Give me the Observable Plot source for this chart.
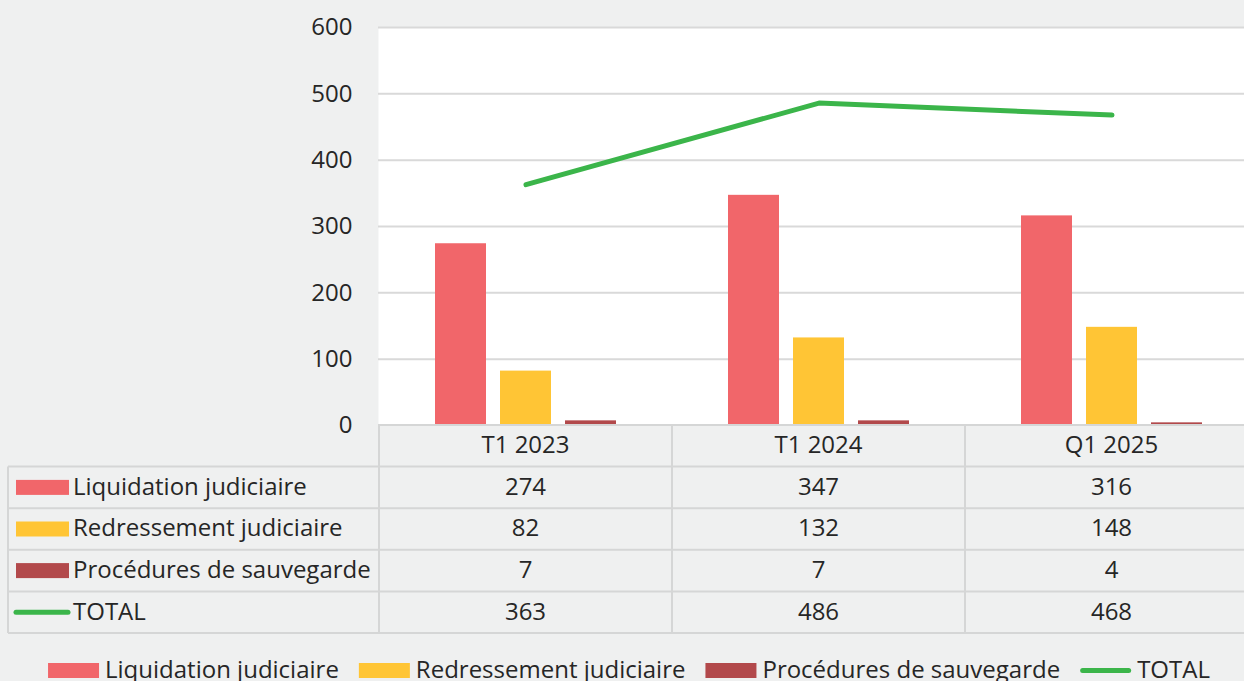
<!DOCTYPE html>
<html><head><meta charset="utf-8">
<script src="https://cdn.jsdelivr.net/npm/d3@7"></script>
<script src="https://cdn.jsdelivr.net/npm/@observablehq/plot@0.6"></script>
<style>
html,body{margin:0;padding:0;background:#eff0f0;overflow:hidden;}
#chart{width:1244px;height:681px;overflow:hidden;position:relative;}
#chart svg{max-width:none !important;}
</style></head><body><div id="chart"></div>
<script>
const categories = ["T1 2023", "T1 2024", "Q1 2025"];
const seriesNames = ["Liquidation judiciaire", "Redressement judiciaire", "Procédures de sauvegarde"];
const liquidation = [274, 347, 316];
const redressement = [82, 132, 148];
const sauvegarde = [7, 7, 4];
const totalName = "TOTAL";
const total = [363, 486, 468];
const yTicks = [0, 100, 200, 300, 400, 500, 600];

(function () {
const seriesValues = [liquidation, redressement, sauvegarde];
const colors = ["#f1666a", "#ffc535", "#b2494b"];
const totalColor = "#3bb54a";
const gridColor = "#d9d9d9";
const tableColor = "#d5d6d6";
const textColor = "#262626";
const font = "'Open Sans', 'Noto Sans', sans-serif";
const fs = 24;
const offsets = [-65, 0, 65];

const W = 1258, H = 681, mL = 378, mT = 27, mB = 256;

const marks = [Plot.frame({fill: "white", stroke: null})];
marks.push(Plot.ruleY(yTicks.filter(t => t > 0), {stroke: gridColor, strokeWidth: 2}));
seriesValues.forEach((vals, i) => {
  marks.push(Plot.barY(categories.map((c, j) => ({cat: c, v: vals[j]})),
    {x: "cat", y: "v", fill: colors[i], insetLeft: 121, insetRight: 121, dx: offsets[i]}));
});
marks.push(Plot.line(categories.map((c, j) => ({cat: c, v: total[j]})),
  {x: "cat", y: "v", stroke: totalColor, strokeWidth: 5, strokeLinecap: "round", strokeLinejoin: "round"}));

const plot = Plot.plot({
  width: W, height: H,
  marginLeft: mL, marginRight: 0, marginTop: mT, marginBottom: mB,
  style: {background: "#eff0f0", fontFamily: font, fontSize: fs + "px", color: textColor, overflow: "visible", maxWidth: "none"},
  x: {type: "band", domain: categories, padding: 0, axis: null},
  y: {domain: [0, 600], ticks: yTicks, tickSize: 0, tickPadding: 26, label: null},
  marks
});
document.getElementById("chart").appendChild(plot);

const xs = plot.scale("x");
const ys = plot.scale("y");
const svg = d3.select(plot);
const g = svg.append("g").attr("font-family", font).attr("fill", textColor)
  .attr("font-size", fs).attr("text-anchor", "start");
const tableTop = ys.apply(0);
const rowH = 41.6;
const nRows = 4;
const tableLeft = 8;
const colStarts = categories.map(c => xs.apply(c));
const bw = xs.bandwidth;
const right = W;
const rowY = k => tableTop + rowH * (k + 1);
const dy = "0.31em";

const lines = g.append("g").attr("stroke", tableColor).attr("stroke-width", 2);
lines.append("line").attr("x1", mL).attr("x2", right).attr("y1", tableTop).attr("y2", tableTop);
for (let k = 0; k <= nRows; k++) {
  lines.append("line").attr("x1", tableLeft).attr("x2", right).attr("y1", rowY(k)).attr("y2", rowY(k));
}
lines.append("line").attr("x1", tableLeft).attr("x2", tableLeft).attr("y1", rowY(0)).attr("y2", rowY(nRows));
colStarts.forEach(x0 => {
  lines.append("line").attr("x1", x0).attr("x2", x0).attr("y1", tableTop).attr("y2", rowY(nRows));
});

categories.forEach((c, j) => {
  g.append("text").attr("x", colStarts[j] + bw / 2).attr("y", tableTop + rowH / 2).attr("dy", dy)
    .attr("text-anchor", "middle").text(c);
});
const rows = seriesNames.map((n, i) => ({name: n, vals: seriesValues[i], color: colors[i], line: false}))
  .concat([{name: totalName, vals: total, color: totalColor, line: true}]);
rows.forEach((r, k) => {
  const cy = rowY(k) + rowH / 2;
  if (r.line) {
    g.append("line").attr("x1", 16).attr("x2", 68).attr("y1", cy).attr("y2", cy)
      .attr("stroke", r.color).attr("stroke-width", 5).attr("stroke-linecap", "round");
  } else {
    g.append("rect").attr("x", 16).attr("y", cy - 7.5).attr("width", 53).attr("height", 15).attr("fill", r.color);
  }
  g.append("text").attr("x", 73).attr("y", cy).attr("dy", dy).text(r.name);
  r.vals.forEach((v, j) => {
    g.append("text").attr("x", colStarts[j] + bw / 2).attr("y", cy).attr("dy", dy)
      .attr("text-anchor", "middle").text(v);
  });
});

// legend, centred on the full chart width
const lg = svg.append("g").attr("font-family", font).attr("fill", textColor)
  .attr("font-size", fs).attr("text-anchor", "start");
const legendY = 670.5;
const sw = 51, swGap = 6, itemGap = 20;
const items = rows.map(r => {
  const t = lg.append("text").attr("y", legendY).attr("dy", dy).text(r.name);
  return {r, t, w: t.node().getComputedTextLength()};
});
const totalW = d3.sum(items, d => sw + swGap + d.w) + itemGap * (items.length - 1);
let lx = W / 2 - totalW / 2;
items.forEach(({r, t, w}) => {
  if (r.line) {
    lg.append("line").attr("x1", lx + 2.5).attr("x2", lx + sw - 2.5).attr("y1", legendY).attr("y2", legendY)
      .attr("stroke", r.color).attr("stroke-width", 5).attr("stroke-linecap", "round");
  } else {
    lg.append("rect").attr("x", lx).attr("y", legendY - 7.5).attr("width", sw).attr("height", 15).attr("fill", r.color);
  }
  t.attr("x", lx + sw + swGap);
  lx += sw + swGap + w + itemGap;
});
})();
</script></body></html>
